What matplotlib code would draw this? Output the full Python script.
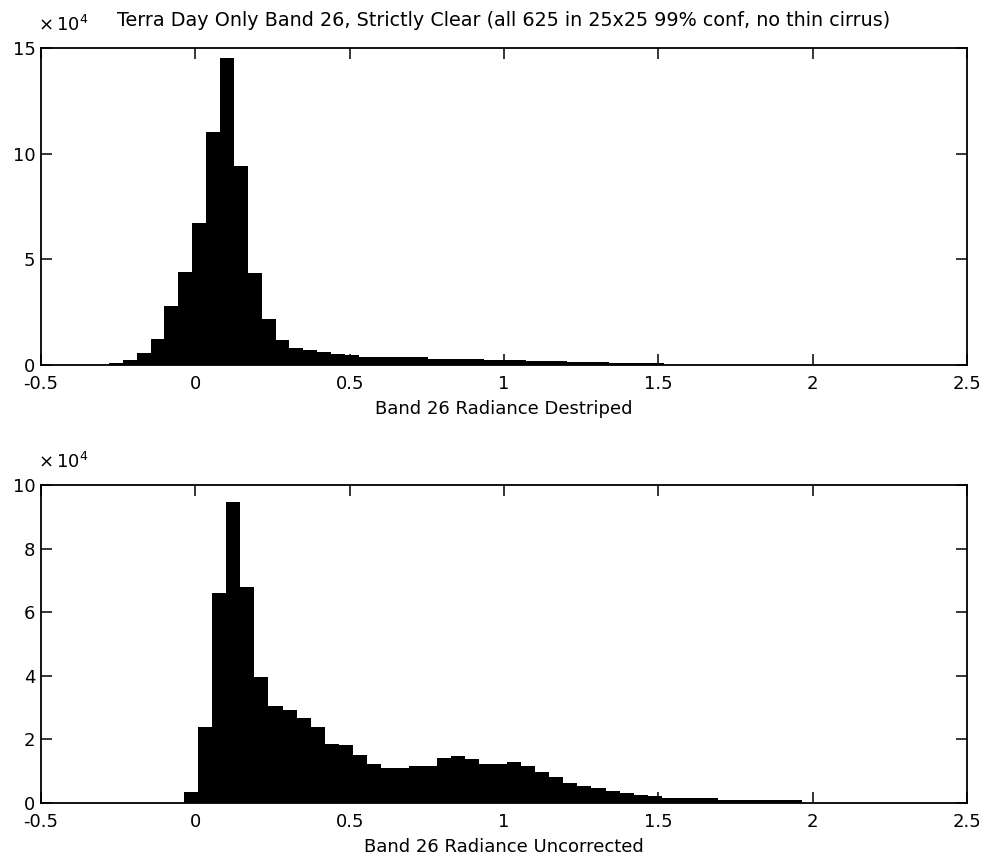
"""Terra band 26 radiance histograms: destriped vs. uncorrected."""
import matplotlib

matplotlib.use("Agg")
import matplotlib.pyplot as plt
import numpy as np

plt.rcParams["font.family"] = ["DejaVu Sans"]
plt.rcParams["mathtext.fontset"] = "dejavusans"

# histogram counts in units of 1e4, one per bin
destriped_start = -0.28
destriped_width = 0.045
destriped_counts = [
    0.08, 0.24, 0.58, 1.22, 2.79, 4.42, 6.70, 11.04, 14.54, 9.43,
    4.34, 2.16, 1.18, 0.79, 0.71, 0.63, 0.52, 0.48, 0.40, 0.39,
    0.38, 0.37, 0.36, 0.30, 0.29, 0.28, 0.27, 0.23, 0.22, 0.22,
    0.21, 0.21, 0.20, 0.14, 0.13, 0.13, 0.12, 0.12, 0.11, 0.10,
]

uncorrected_start = -0.036
uncorrected_width = 0.0455
uncorrected_counts = [
    0.34, 2.39, 6.60, 9.48, 6.81, 3.95, 3.04, 2.93, 2.67, 2.39,
    1.85, 1.81, 1.52, 1.23, 1.10, 1.10, 1.17, 1.17, 1.43, 1.49,
    1.38, 1.23, 1.23, 1.29, 1.17, 0.96, 0.82, 0.63, 0.54, 0.47,
    0.37, 0.31, 0.26, 0.21, 0.15, 0.15, 0.15, 0.15, 0.09, 0.09,
    0.09, 0.09, 0.09, 0.09,
]

x_ticks = [-0.5, 0, 0.5, 1, 1.5, 2, 2.5]
x_tick_labels = ["-0.5", "0", "0.5", "1", "1.5", "2", "2.5"]

title = "Terra Day Only Band 26, Strictly Clear (all 625 in 25x25 99% conf, no thin cirrus)"

fig = plt.figure(figsize=(9.83, 8.59), dpi=100)
ax1 = fig.add_axes([0.0417, 0.575, 0.942, 0.369])
ax2 = fig.add_axes([0.0417, 0.0652, 0.942, 0.370])

panels = [
    (ax1, destriped_start, destriped_width, destriped_counts, 15, [0, 5, 10, 15],
     "Band 26 Radiance Destriped"),
    (ax2, uncorrected_start, uncorrected_width, uncorrected_counts, 10, [0, 2, 4, 6, 8, 10],
     "Band 26 Radiance Uncorrected"),
]

for ax, start, width, counts, ymax, yticks, xlabel in panels:
    edges = start + width * np.arange(len(counts))
    ax.bar(edges, counts, width=width, align="edge", color="black", linewidth=0)
    ax.set_xlim(-0.5, 2.5)
    ax.set_ylim(0, ymax)
    ax.set_xticks(x_ticks)
    ax.set_xticklabels(x_tick_labels)
    ax.set_yticks(yticks)
    ax.tick_params(direction="in", length=8, width=1.1, top=True, right=True,
                   labelsize=13, colors="black")
    ax.tick_params(axis="x", pad=7.5)
    ax.tick_params(axis="y", pad=4)
    for s in ax.spines.values():
        s.set_linewidth(1.3)
    ax.set_xlabel(xlabel, fontsize=13, labelpad=5)
    ax.text(-0.003, 1.04, r"$\times\,10^{4}$", transform=ax.transAxes,
            fontsize=13, ha="left", va="bottom")

ax1.set_title(title, fontsize=13.8, pad=16)

fig.savefig("out.png", dpi=100)
